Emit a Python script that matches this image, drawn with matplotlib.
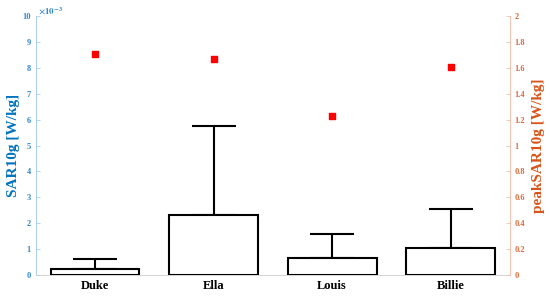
import matplotlib.pyplot as plt
import numpy as np

# === Datos ===
sujetos = ["Duke", "Ella", "Louis", "Billie"]
sar10g = [0.25e-3, 2.32e-3, 0.65e-3, 1.03e-3]
sar10g_err = [0.37e-3, 3.45e-3, 0.95e-3, 1.52e-3]
peak_sar10g = [1.71, 1.67, 1.23, 1.61]

azul = "#0072BD"
azul_claro = "#2f86cc"
naranja = "#D95319"
naranja_claro = "#dd6a3a"

plt.rcParams['font.family'] = ['Liberation Serif', 'DejaVu Serif']
plt.rcParams['font.weight'] = 'bold'
plt.rcParams['mathtext.fontset'] = 'stix'

fig = plt.figure(figsize=(5.5, 2.97), dpi=100)
ax = fig.add_axes([0.065, 0.074, 0.862, 0.872])

x = np.arange(1, len(sujetos) + 1)
err = [np.zeros(len(sar10g_err)), sar10g_err]
ax.bar(x, sar10g, width=0.75, color="white", edgecolor="black", linewidth=1.5, zorder=2)
ax.errorbar(x, sar10g, yerr=err, fmt="none", ecolor="black", elinewidth=1.5,
            capsize=16, capthick=1.5, zorder=1)

ax.set_xlim(0.5, 4.5)
ax.set_ylim(0, 10e-3)
ax.set_yticks(np.arange(0, 11) * 1e-3)
ax.set_yticklabels([str(i) for i in range(11)])
ax.text(0.005, 1.0, r"$\times10^{-3}$", transform=ax.transAxes, color=azul_claro,
        fontsize=6.5, ha="left", va="bottom")
ax.set_ylabel("SAR10g [W/kg]", color=azul, fontsize=11, fontweight="bold", labelpad=2)
ax.set_xticks(x)
ax.set_xticklabels(sujetos, fontsize=9, fontweight="bold")
ax.tick_params(axis="y", colors="#9ec5e6", labelcolor=azul_claro, labelsize=6,
               direction="in", length=3, width=0.5)
ax.tick_params(axis="x", colors="#cccccc", labelcolor="black", direction="in", length=2, width=0.5)

ax.spines["top"].set_visible(False)
ax.spines["right"].set_visible(False)
ax.spines["left"].set_color("#9ec5e6")
ax.spines["left"].set_linewidth(0.6)
ax.spines["bottom"].set_color("#cccccc")
ax.spines["bottom"].set_linewidth(0.6)

ax2 = ax.twinx()
ax2.scatter(x, peak_sar10g, marker="s", s=22, color="red", zorder=3)
ax2.set_ylim(0, 2)
ax2.set_yticks(np.arange(0, 2.01, 0.2))
ax2.set_yticklabels(["0", "0.2", "0.4", "0.6", "0.8", "1", "1.2", "1.4", "1.6", "1.8", "2"])
ax2.set_ylabel("peakSAR10g [W/kg]", color=naranja, fontsize=11, fontweight="bold", labelpad=5)
ax2.tick_params(axis="y", colors="#f0b9a0", labelcolor=naranja_claro, labelsize=6,
                direction="in", length=3, width=0.5)
for s in ["top", "left", "bottom"]:
    ax2.spines[s].set_visible(False)
ax2.spines["right"].set_color("#f0b9a0")
ax2.spines["right"].set_linewidth(0.6)

plt.savefig("out.png", dpi=100)
plt.close()
